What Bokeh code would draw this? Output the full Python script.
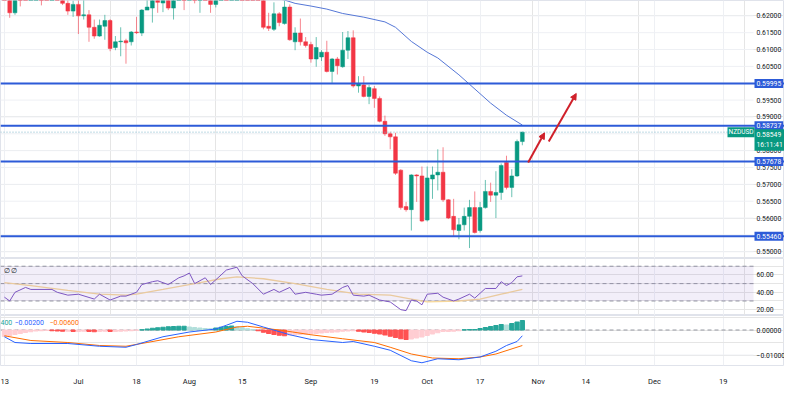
from bokeh.plotting import figure
from bokeh.layouts import column
from bokeh.models import (Range1d, FixedTicker, Span, Label, Arrow, NormalHead,
                          ColumnDataSource, BoxAnnotation, Grid)
from bokeh.core.properties import value
from bokeh.embed import file_html
from bokeh.resources import INLINE

# ---------------- data ----------------
tick_idx = [0, 14, 25, 35, 45, 58, 70, 80, 90, 101, 110, 123, 136]
tick_lbl = ["13", "Jul", "18", "Aug", "15", "Sep", "19", "Oct", "17", "Nov", "14", "Dec", "19"]

opens = [0.6300, 0.6262, 0.6209, 0.6290, 0.6270, 0.6260, 0.6330, 0.6350, 0.6310, 0.6300,
         0.6320, 0.6280, 0.6237, 0.6214, 0.6234, 0.6200, 0.6203, 0.6166, 0.6140, 0.6169,
         0.6186, 0.6106, 0.6123, 0.6126, 0.6123, 0.6152, 0.6149, 0.6217, 0.6223, 0.6265,
         0.6238, 0.6250, 0.6223, 0.6260, 0.6300, 0.6285, 0.6290, 0.6265, 0.6270, 0.6265,
         0.6234, 0.6260, 0.6295, 0.6285, 0.6420, 0.6440, 0.6380, 0.6355, 0.6300, 0.6265,
         0.6169, 0.6160, 0.6206, 0.6177, 0.6226, 0.6123, 0.6149, 0.6123, 0.6115, 0.6072,
         0.6078, 0.6092, 0.6035, 0.6072, 0.6049, 0.6098, 0.6135, 0.5992, 0.5995, 0.5961,
         0.5984, 0.5955, 0.5887, 0.5850, 0.5841, 0.5742, 0.5634, 0.5625, 0.5728, 0.5725,
         0.5594, 0.5716, 0.5728, 0.5736, 0.5654, 0.5605, 0.5563, 0.5580, 0.5605, 0.5631,
         0.5563, 0.5631, 0.5679, 0.5668, 0.5676, 0.5765, 0.5691, 0.5725, 0.5827]
highs = [0.6320, 0.6275, 0.6310, 0.6330, 0.6300, 0.6335, 0.6380, 0.6360, 0.6330, 0.6345,
         0.6345, 0.6290, 0.6246, 0.6245, 0.6250, 0.6250, 0.6217, 0.6189, 0.6189, 0.6203,
         0.6190, 0.6140, 0.6166, 0.6132, 0.6155, 0.6197, 0.6220, 0.6250, 0.6280, 0.6290,
         0.6280, 0.6255, 0.6290, 0.6330, 0.6320, 0.6310, 0.6310, 0.6290, 0.6300, 0.6280,
         0.6300, 0.6310, 0.6330, 0.6430, 0.6470, 0.6450, 0.6400, 0.6380, 0.6310, 0.6275,
         0.6209, 0.6240, 0.6211, 0.6245, 0.6234, 0.6166, 0.6192, 0.6137, 0.6123, 0.6137,
         0.6098, 0.6126, 0.6075, 0.6078, 0.6152, 0.6155, 0.6157, 0.6021, 0.6021, 0.5995,
         0.5992, 0.5961, 0.5904, 0.5856, 0.5853, 0.5745, 0.5648, 0.5730, 0.5730, 0.5753,
         0.5753, 0.5753, 0.5804, 0.5810, 0.5656, 0.5657, 0.5600, 0.5631, 0.5654, 0.5679,
         0.5648, 0.5713, 0.5705, 0.5739, 0.5762, 0.5785, 0.5745, 0.5833, 0.5856]
lows = [0.6255, 0.6194, 0.6203, 0.6228, 0.6250, 0.6255, 0.6300, 0.6231, 0.6260, 0.6280,
        0.6265, 0.6232, 0.6203, 0.6197, 0.6146, 0.6189, 0.6123, 0.6132, 0.6138, 0.6129,
        0.6095, 0.6098, 0.6080, 0.6058, 0.6112, 0.6146, 0.6140, 0.6217, 0.6180, 0.6209,
        0.6211, 0.6217, 0.6189, 0.6250, 0.6217, 0.6255, 0.6237, 0.6209, 0.6250, 0.6209,
        0.6225, 0.6250, 0.6270, 0.6275, 0.6400, 0.6370, 0.6340, 0.6290, 0.6250, 0.6160,
        0.6155, 0.6155, 0.6169, 0.6174, 0.6126, 0.6098, 0.6112, 0.6106, 0.6061, 0.6049,
        0.6066, 0.6032, 0.6001, 0.6026, 0.6046, 0.6072, 0.5987, 0.5972, 0.5958, 0.5938,
        0.5927, 0.5884, 0.5844, 0.5804, 0.5728, 0.5625, 0.5619, 0.5563, 0.5648, 0.5588,
        0.5590, 0.5657, 0.5682, 0.5648, 0.5597, 0.5545, 0.5537, 0.5563, 0.5511, 0.5554,
        0.5557, 0.5628, 0.5648, 0.5600, 0.5654, 0.5685, 0.5662, 0.5722, 0.5816]
closes = [0.6265, 0.6209, 0.6290, 0.6270, 0.6260, 0.6330, 0.6350, 0.6310, 0.6300, 0.6320,
          0.6280, 0.6237, 0.6214, 0.6234, 0.6200, 0.6203, 0.6166, 0.6140, 0.6172, 0.6186,
          0.6103, 0.6123, 0.6125, 0.6120, 0.6152, 0.6150, 0.6217, 0.6226, 0.6260, 0.6240,
          0.6255, 0.6223, 0.6260, 0.6300, 0.6285, 0.6290, 0.6265, 0.6270, 0.6265, 0.6234,
          0.6260, 0.6295, 0.6285, 0.6420, 0.6440, 0.6380, 0.6355, 0.6300, 0.6265, 0.6166,
          0.6163, 0.6206, 0.6180, 0.6226, 0.6129, 0.6149, 0.6123, 0.6112, 0.6072, 0.6106,
          0.6092, 0.6035, 0.6072, 0.6052, 0.6098, 0.6135, 0.5992, 0.5998, 0.5961, 0.5987,
          0.5955, 0.5887, 0.5850, 0.5841, 0.5733, 0.5631, 0.5625, 0.5728, 0.5725, 0.5591,
          0.5719, 0.5728, 0.5736, 0.5654, 0.5600, 0.5565, 0.5580, 0.5605, 0.5631, 0.5557,
          0.5631, 0.5679, 0.5668, 0.5676, 0.5756, 0.5691, 0.5725, 0.5827, 0.5855]

ma_x = [50, 53, 55, 58, 61, 64, 68, 72, 74, 77, 80, 82, 86, 88, 92, 95, 98]
ma_v = [0.6255, 0.6247, 0.6237, 0.6229, 0.6220, 0.6207, 0.6196, 0.6182, 0.6166, 0.6124,
        0.6092, 0.6075, 0.6025, 0.5997, 0.5941, 0.5905, 0.5876]

levels = [0.59995, 0.58737, 0.57678, 0.55460]
last_price = 0.58549
last_time = "16:11:41"
symbol = "NZDUSD"

arrow_x0 = [99.1, 103.0]
arrow_y0 = [0.57646, 0.58272]
arrow_x1 = [102.2, 108.2]
arrow_y1 = [0.58528, 0.59695]

price_ticks = [0.550, 0.555, 0.560, 0.565, 0.570, 0.575, 0.580, 0.585, 0.590, 0.595,
               0.600, 0.605, 0.610, 0.615, 0.620]
price_ticks_shown = [0.550, 0.560, 0.565, 0.570, 0.575, 0.580, 0.590, 0.595,
                     0.605, 0.610, 0.615, 0.620]

rsi_x = [0, 1, 2, 4, 5, 9, 10, 12, 14, 17, 18, 20, 22, 23, 25, 26, 28, 29, 31, 33,
         34, 35, 36, 38, 39, 40, 42, 44, 45, 47, 49, 51, 52, 54, 55, 57, 59, 60, 62, 64,
         65, 66, 68, 69, 71, 73, 75, 76, 77, 78, 79, 80, 82, 83, 85, 86, 88, 89, 91, 93,
         94, 95, 96, 97, 98]
rsi_v = [34.4, 30.0, 40.0, 45.6, 43.3, 43.3, 40.0, 36.7, 37.8, 32.2, 37.8, 31.1, 35.6, 35.6,
         40.0, 48.9, 52.2, 53.3, 48.9, 56.7, 58.9, 62.2, 50.0, 56.7, 48.9, 54.4, 65.6, 68.9,
         58.9, 50.0, 37.8, 43.3, 40.0, 45.6, 37.8, 40.0, 37.8, 36.7, 37.8, 45.6, 47.8, 36.7,
         35.6, 36.7, 31.1, 28.9, 20.0, 18.9, 31.1, 30.0, 25.6, 37.8, 38.9, 34.4, 30.0, 32.2,
         37.8, 33.3, 44.4, 44.4, 52.2, 47.8, 51.1, 57.8, 58.9]
rsima_x = [0, 5, 12, 18, 23, 25, 30, 36, 41, 44, 49, 55, 61, 67, 73, 77, 80, 86, 90, 94, 98]
rsima_v = [51.1, 47.8, 42.2, 37.8, 36.7, 37.8, 43.3, 50.0, 55.6, 57.8, 55.6, 50.0, 43.3,
           37.8, 36.7, 32.2, 28.9, 30.0, 32.2, 37.8, 43.3]
rsi_levels = [70, 50, 30]
rsi_ticks = [20, 40, 60]
rsi_legend = "\u2205 \u2205"

macd_x = [0, 2, 5, 12, 18, 23, 25, 30, 35, 40, 42, 44, 46, 49, 54, 58, 64, 66, 70, 73,
          77, 79, 82, 86, 90, 93, 95, 97, 98]
macd_v = [-0.0027, -0.0050, -0.0054, -0.0054, -0.0065, -0.0069, -0.0058, -0.0027, -0.0008,
          0.0004, 0.0019, 0.0035, 0.0031, 0.0012, -0.0019, -0.0038, -0.0050, -0.0046,
          -0.0065, -0.0081, -0.0123, -0.0131, -0.0115, -0.0119, -0.0108, -0.0085, -0.0062,
          -0.0046, -0.0023]
sig_x = [0, 5, 12, 18, 23, 27, 33, 40, 44, 46, 52, 58, 64, 70, 73, 77, 81, 86, 90, 93, 98]
sig_v = [-0.0023, -0.0042, -0.0050, -0.0062, -0.0065, -0.0050, -0.0027, -0.0008, 0.0012,
         0.0015, 0.0, -0.0019, -0.0035, -0.0050, -0.0069, -0.0096, -0.0112, -0.0115,
         -0.0108, -0.0096, -0.0062]
hist = [-0.0026, -0.0022, -0.0018, -0.0014, -0.0010, -0.0007,
        -0.0004, -0.0003, -0.0002, -0.0003, -0.0004, -0.0005, -0.0005, -0.0006, -0.0006,
        -0.0005, -0.0006, -0.0007, -0.0006, -0.0005, -0.0006, -0.0006, -0.0005, -0.0004,
        -0.0003,
        -0.0001, 0.0001,
        0.0004, 0.0007, 0.0009, 0.0011, 0.0013, 0.0014, 0.0015, 0.0015,
        0.0012, 0.0010, 0.0008, 0.0006, 0.0005,
        0.0008, 0.0011, 0.0014, 0.0016,
        0.0013, 0.0009, 0.0005, 0.0002,
        -0.0003, -0.0009, -0.0014, -0.0018, -0.0021, -0.0023,
        -0.0020, -0.0019, -0.0018, -0.0017, -0.0015, -0.0014, -0.0012, -0.0010, -0.0009,
        -0.0008,
        -0.0005, -0.0004, -0.0003, -0.0005,
        -0.0008, -0.0010, -0.0013, -0.0016, -0.0020, -0.0025,
        -0.0030, -0.0035, -0.0038, -0.0036,
        -0.0032, -0.0028, -0.0022, -0.0016, -0.0011,
        -0.0006, -0.0006, -0.0005, -0.0003,
        0.0001, 0.0002, 0.0002,
        0.0006, 0.0010, 0.0014, 0.0018, 0.0022, 0.0020, 0.0026, 0.0032, 0.0038]
macd_ticks = [-0.01, 0.0]
macd_legend = ["400", "\u22120.00200", "\u22120.00600"]

# ---------------- style ----------------
UP, DOWN = "#089981", "#f23645"
BLUE = "#2d5bd8"
GRID = "#eef0f4"
TXT = "#131722"
FONT = "Roboto"
FS = "6.8px"
FW = 784
X0 = -0.742          # left edge of the chart area (bar units)
AX = 141.74          # where the price scale begins (bar units)
XR = Range1d(X0, X0 + (AX - X0) * FW / 753.0)


def base(height, yr, bottom_axis=False):
    p = figure(frame_width=FW, frame_height=height, x_range=XR, y_range=yr,
               output_backend="svg", toolbar_location=None, y_axis_location=None,
               x_axis_location="below" if bottom_axis else None,
               min_border=0, min_border_bottom=18 if bottom_axis else 0)
    p.outline_line_color = "#e0e3eb"
    p.background_fill_color = "white"
    p.border_fill_color = "white"
    if not bottom_axis:
        p.add_layout(Grid(dimension=0, ticker=FixedTicker(ticks=tick_idx), grid_line_color=GRID))
    return p


def scale_labels(p, ticks, labels):
    p.text(x=[AX] * len(ticks), y=ticks, text=labels, x_offset=3,
           text_font=value(FONT), text_font_size=FS, text_color=TXT,
           text_baseline="middle", text_align="left")


def hlines(p, ys, **kw):
    p.segment(x0=[X0] * len(ys), x1=[AX] * len(ys), y0=ys, y1=ys, **kw)


# ---------------- main pane ----------------
p1 = base(258, Range1d(0.5480, 0.62455))
hlines(p1, price_ticks, line_color=GRID, line_width=1)
scale_labels(p1, price_ticks_shown, ["%.5f" % t for t in price_ticks_shown])

idx = list(range(len(opens)))
col = [UP if c >= o else DOWN for o, c in zip(opens, closes)]
src = ColumnDataSource(dict(x=idx, o=opens, h=highs, l=lows, c=closes, col=col,
                            top=[max(o, c) for o, c in zip(opens, closes)],
                            bot=[min(o, c) for o, c in zip(opens, closes)]))
p1.segment(x0="x", y0="l", x1="x", y1="h", color="col", line_width=1, line_alpha=0.6, source=src)
p1.vbar(x="x", top="top", bottom="bot", width=0.72, fill_color="col", line_color="col",
        line_width=0.5, source=src)

p1.line(ma_x, ma_v, line_color="#5577d6", line_width=1)

p1.add_layout(Span(location=last_price, dimension="width", line_color="#7fb7c9",
                   line_width=1, line_dash="1 2"))
for lv in levels:
    p1.add_layout(Span(location=lv, dimension="width", line_color=BLUE, line_width=2))

for a0, b0, a1, b1 in zip(arrow_x0, arrow_y0, arrow_x1, arrow_y1):
    p1.add_layout(Arrow(end=NormalHead(size=6, fill_color="#d0202a", line_color="#d0202a"),
                        x_start=a0, y_start=b0, x_end=a1, y_end=b1,
                        line_color="#d0202a", line_width=2))

for lv in levels:
    p1.add_layout(Label(x=AX, y=lv, x_offset=1, text="%.5f" % lv,
                        text_font=FONT, text_font_size=FS, text_color="white",
                        text_baseline="middle", text_align="left",
                        background_fill_color=BLUE, padding=2))
p1.add_layout(Label(x=AX, y=last_price, x_offset=1, y_offset=3,
                    text="%.5f\n%s" % (last_price, last_time),
                    text_font=FONT, text_font_size=FS, text_color="white",
                    text_baseline="top", text_align="left",
                    background_fill_color=UP, padding=2))
p1.add_layout(Label(x=AX, y=last_price, x_offset=-26, text=symbol,
                    text_font=FONT, text_font_size="6.5px", text_color="white",
                    text_baseline="middle", text_align="left",
                    background_fill_color=UP, padding=1))

# ---------------- RSI pane ----------------
p2 = base(57, Range1d(13.3, 78.9))
p2.add_layout(BoxAnnotation(left=X0, right=AX, bottom=30, top=70, fill_color="#7e57c2",
                            fill_alpha=0.1, line_alpha=0))
hlines(p2, rsi_levels, line_color="#9598a1", line_width=1, line_dash="4 3")
scale_labels(p2, rsi_ticks, ["%.2f" % t for t in rsi_ticks])
p2.line(rsima_x, rsima_v, line_color="#f6d79a", line_width=1.3)
p2.line(rsi_x, rsi_v, line_color="#7e57c2", line_width=1)
p2.add_layout(Label(x=X0, y=70, x_offset=3, y_offset=-1, text=rsi_legend, text_font=FONT,
                    text_font_size="7px", text_color=TXT, text_baseline="top"))

# ---------------- MACD pane ----------------
p3 = base(50, Range1d(-0.0142, 0.0058), bottom_axis=True)
p3.xaxis.ticker = FixedTicker(ticks=tick_idx)
p3.xaxis.major_label_overrides = {t: s for t, s in zip(tick_idx, tick_lbl)}
p3.xaxis.axis_line_color = None
p3.xaxis.major_tick_line_color = None
p3.xaxis.minor_tick_line_color = None
p3.xaxis.major_label_text_font_size = "7.5px"
p3.xaxis.major_label_text_font = FONT
p3.xaxis.major_label_text_color = TXT
p3.xaxis.major_label_standoff = 5
p3.xgrid.grid_line_color = GRID
hlines(p3, [-0.01], line_color=GRID, line_width=1)
hlines(p3, [0.0], line_color="#9598a1", line_width=1, line_dash="4 3")
scale_labels(p3, macd_ticks,
             [("\u2212%.5f" % abs(t)) if t < 0 else ("%.5f" % t) for t in macd_ticks])
hcol = []
for i, h in enumerate(hist):
    prev = hist[i - 1] if i > 0 else h
    if h >= 0:
        hcol.append("#26a69a" if h >= prev else "#b2dfdb")
    else:
        hcol.append("#ff5252" if h < prev else "#ffcdd2")
p3.vbar(x=idx, top=hist, bottom=0, width=0.8, fill_color=hcol, line_color=hcol)
p3.line(sig_x, sig_v, line_color="#ff6d00", line_width=1)
p3.line(macd_x, macd_v, line_color="#2962ff", line_width=1)
leg_cols = ["#26a69a", "#2962ff", "#ff6d00"]
leg_off = [0, 14, 49]
for t, c, o in zip(macd_legend, leg_cols, leg_off):
    p3.add_layout(Label(x=X0, y=0.0031, x_offset=o, text=t, text_font=FONT,
                        text_font_size="7px", text_color=c, text_baseline="middle"))

layout = column(p1, p2, p3, spacing=0)
open("out.html", "w").write(file_html(layout, INLINE))
